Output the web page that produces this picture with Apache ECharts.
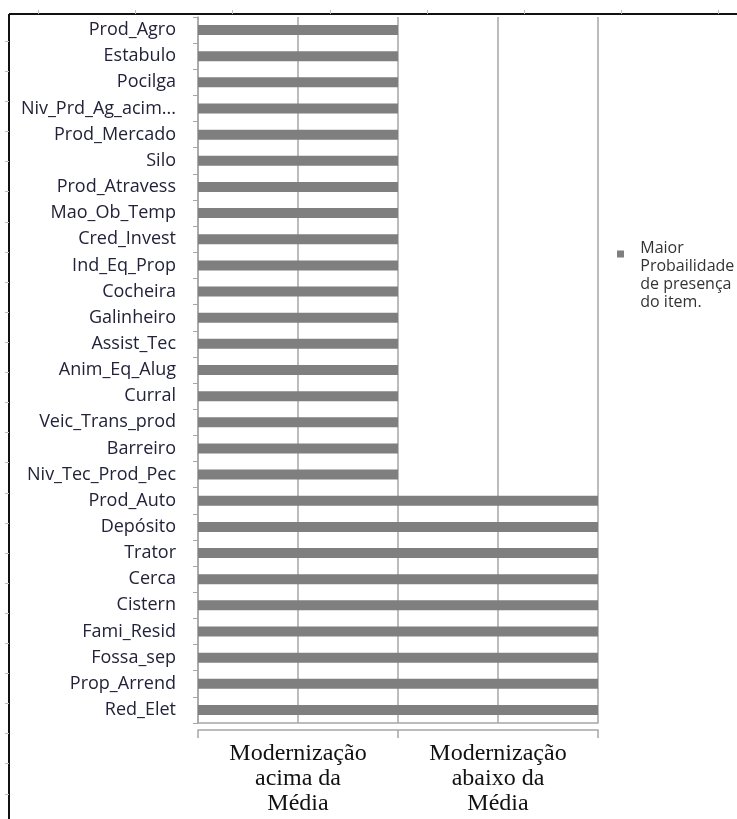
<!DOCTYPE html>
<html><head><meta charset="utf-8">
<script src="https://cdn.jsdelivr.net/npm/echarts@6/dist/echarts.min.js"></script>
<style>html,body{margin:0;padding:0;background:#fff}#c{width:737px;height:819px}</style>
</head><body><div id="c"></div>
<script>
const categories = ['Prod_Agro','Estabulo','Pocilga','Niv_Prd_Ag_acim...','Prod_Mercado','Silo','Prod_Atravess','Mao_Ob_Temp','Cred_Invest','Ind_Eq_Prop','Cocheira','Galinheiro','Assist_Tec','Anim_Eq_Alug','Curral','Veic_Trans_prod','Barreiro','Niv_Tec_Prod_Pec','Prod_Auto','Depósito','Trator','Cerca','Cistern','Fami_Resid','Fossa_sep','Prop_Arrend','Red_Elet'];
const values = [1,1,1,1,1,1,1,1,1,1,1,1,1,1,1,1,1,1,2,2,2,2,2,2,2,2,2];
const groupLabels = ['Modernização\nacima da\nMédia','Modernização\nabaixo da\nMédia'];
const seriesName = 'Maior\nProbailidade\nde presença\ndo item.';

const chart = echarts.init(document.getElementById('c'), null, {renderer:'canvas'});
const frameTicks = [];
for (let y = 41; y < 819; y += 30.1) frameTicks.push({type:'line', shape:{x1:5,y1:Math.round(y)+0.5,x2:9,y2:Math.round(y)+0.5}, style:{stroke:'#bbb',lineWidth:1}, silent:true});
for (let x = 38; x < 737; x += 97.2) frameTicks.push({type:'line', shape:{x1:Math.round(x)+0.5,y1:10,x2:Math.round(x)+0.5,y2:14}, style:{stroke:'#bbb',lineWidth:1}, silent:true});
chart.setOption({
  animation:false,
  grid:{left:198, top:17, width:400, height:706, containLabel:false},
  legend:{
    data:[seriesName], left:617, top:239, orient:'vertical', padding:0,
    icon:'path://M0,0h10v10h-10zM26,70h0.1v0.1h-0.1z', itemWidth:18.3, itemHeight:49,
    textStyle:{fontFamily:'Open Sans', fontSize:16, color:'#333', lineHeight:18}
  },
  xAxis:[
    {type:'value', min:0, max:2, interval:0.5,
     axisLabel:{show:false}, axisTick:{show:false},
     axisLine:{show:true, lineStyle:{color:'#a6a6a6', width:1.5}},
     splitLine:{show:true, lineStyle:{color:'#a6a6a6', width:1.5}}},
    {type:'category', data:groupLabels, position:'bottom', offset:7, boundaryGap:true,
     axisLine:{show:true, lineStyle:{color:'#a6a6a6', width:1.5}},
     axisTick:{show:true, length:8, lineStyle:{color:'#a6a6a6', width:1.5}},
     axisLabel:{fontFamily:'Liberation Serif', fontSize:24, color:'#111', lineHeight:25, margin:11},
     splitLine:{show:false}}
  ],
  yAxis:{type:'category', data:categories, inverse:true,
    axisLine:{show:true, lineStyle:{color:'#a6a6a6', width:1.5}},
    axisTick:{show:true, length:5, lineStyle:{color:'#a6a6a6'}},
    axisLabel:{fontFamily:'Open Sans', fontSize:18, color:'#22223a', margin:22}},
  series:[{name:seriesName, type:'bar', xAxisIndex:0, data:values, barWidth:10,
    itemStyle:{color:'#7f7f7f'}}],
  graphic:[
    {type:'line', shape:{x1:9,y1:14,x2:737,y2:14}, style:{stroke:'#111',lineWidth:2}, silent:true},
    {type:'line', shape:{x1:9,y1:14,x2:9,y2:819}, style:{stroke:'#111',lineWidth:2}, silent:true}
  ].concat(frameTicks)
});
</script></body></html>
